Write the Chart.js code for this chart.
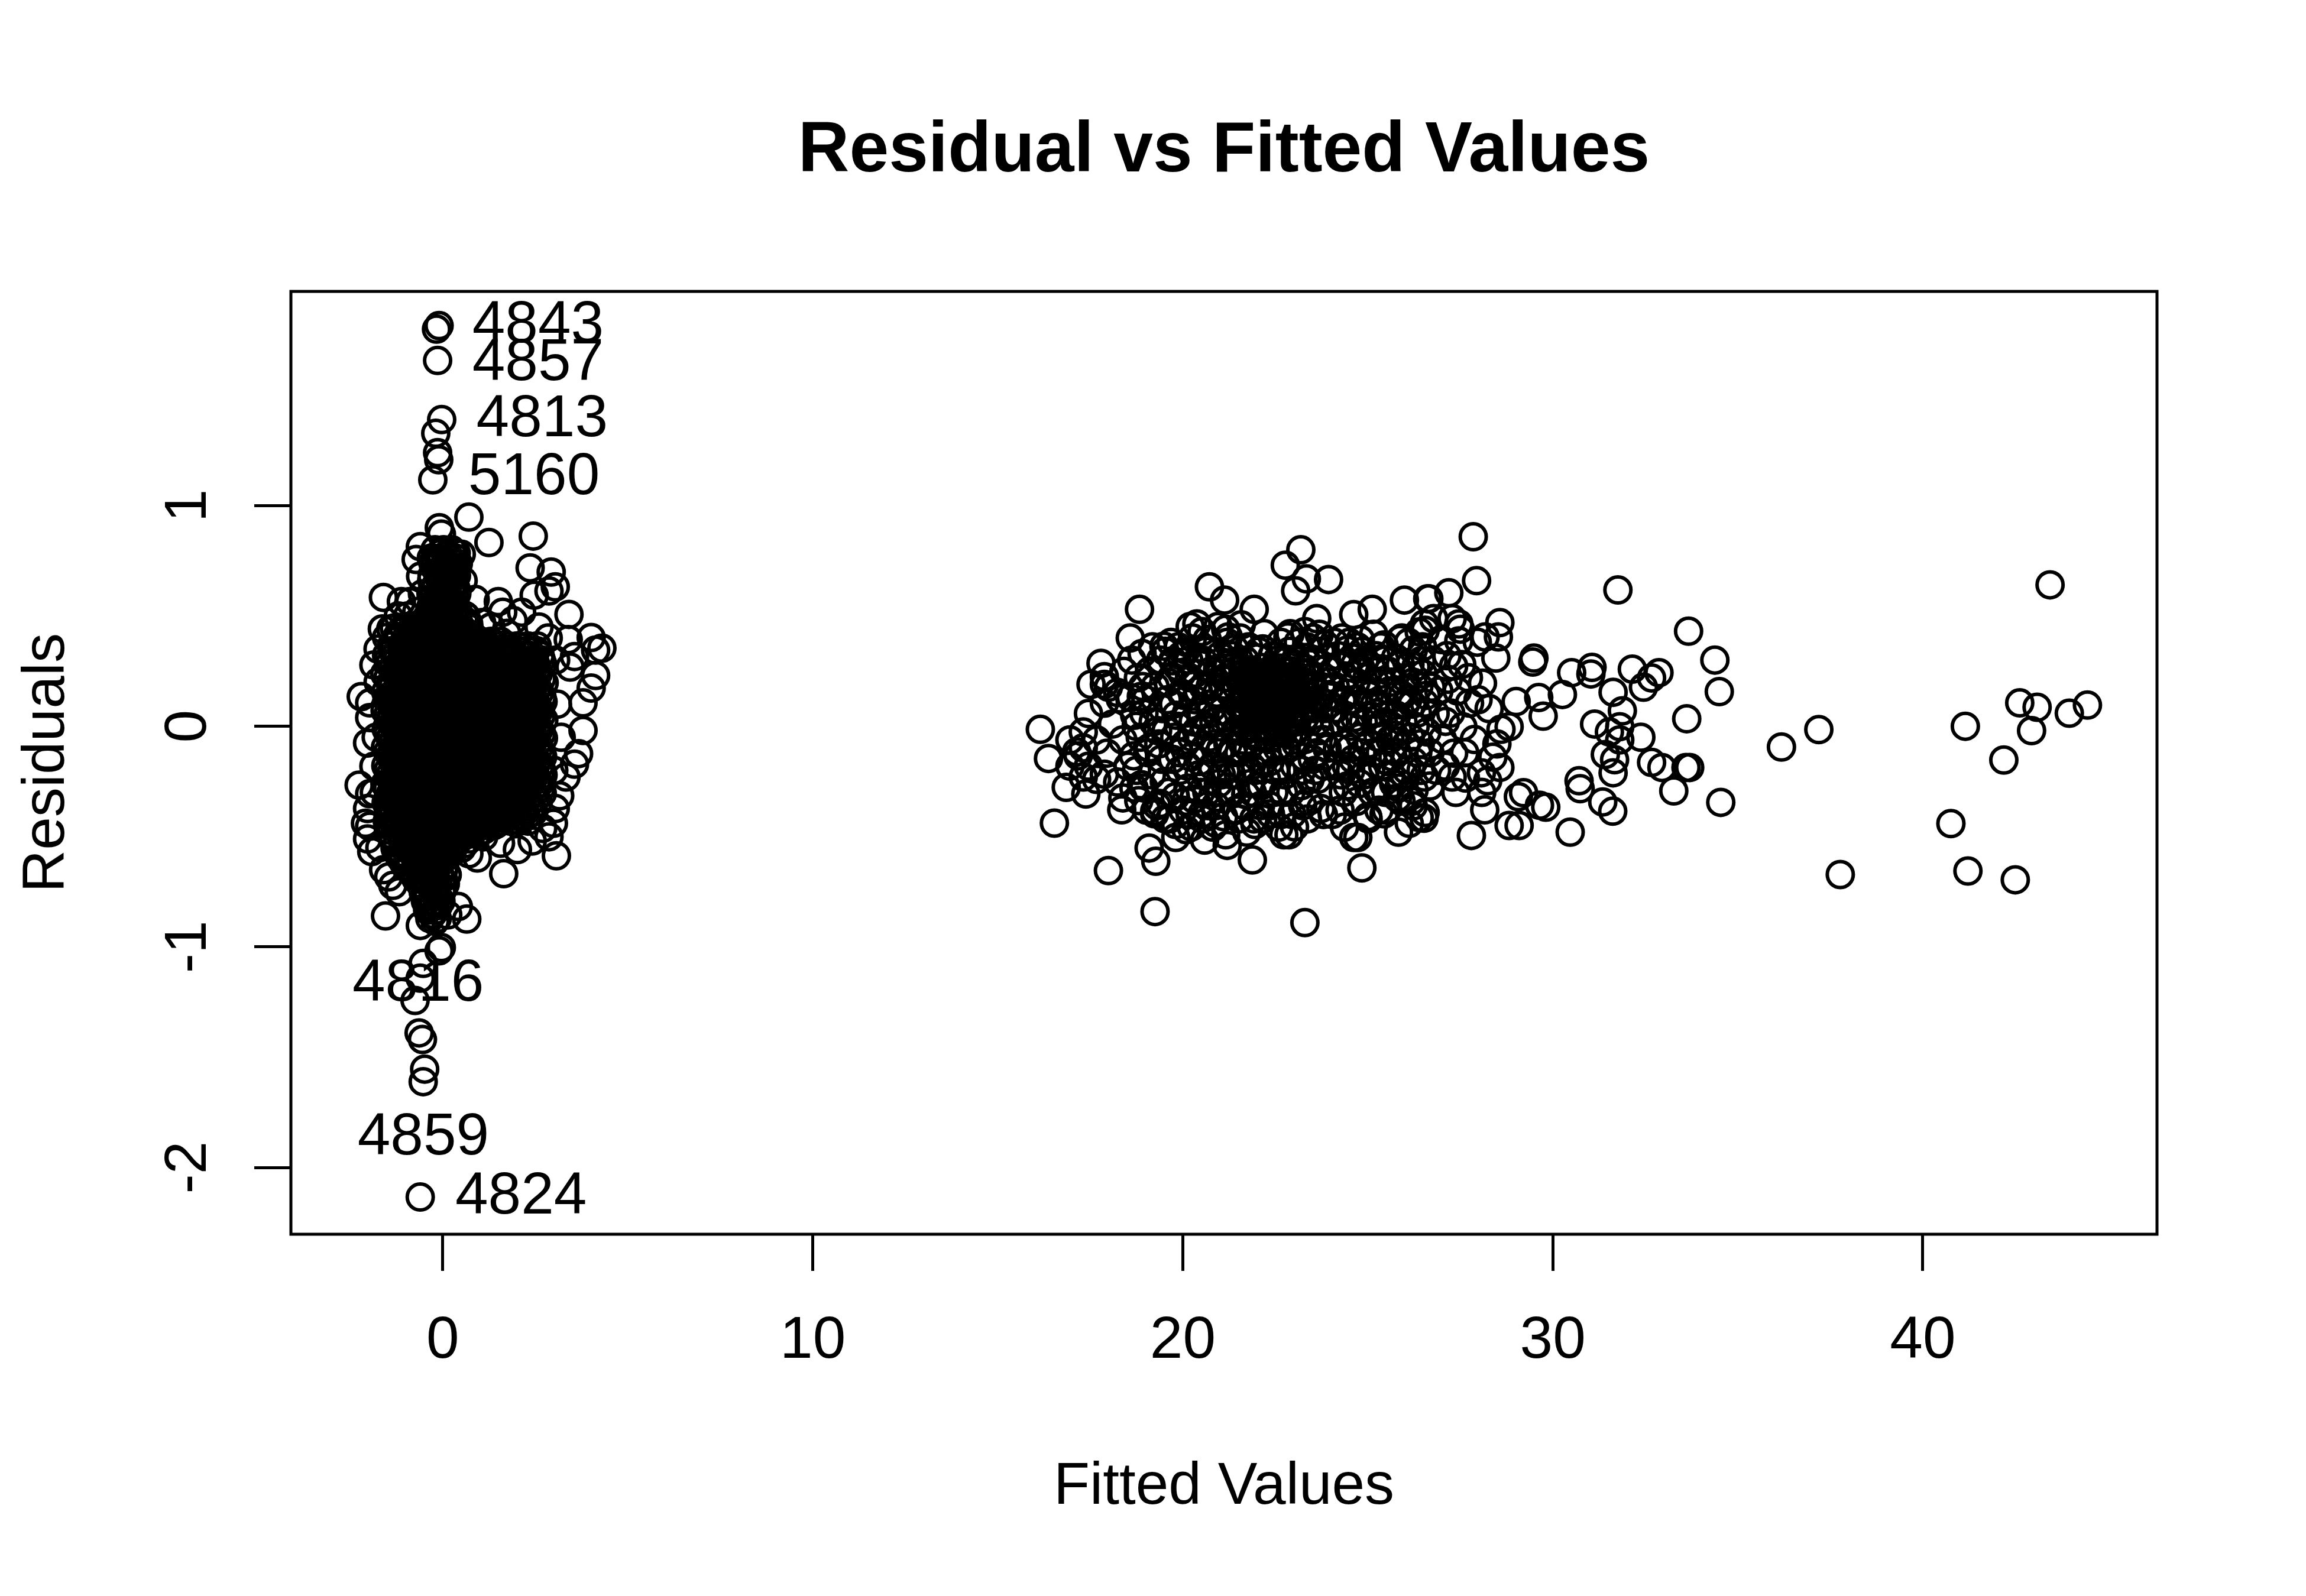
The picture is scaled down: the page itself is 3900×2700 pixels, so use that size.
<!DOCTYPE html>
<html><head><meta charset="utf-8">
<script src="https://cdn.jsdelivr.net/npm/chart.js@4.4.1/dist/chart.umd.min.js"></script>
<style>html,body{margin:0;padding:0;background:#fff;}canvas{display:block;}</style>
</head><body>
<canvas id="c" width="3900" height="2700" style="width:3900px;height:2700px"></canvas>
<script>
const chartTitle = 'Residual vs Fitted Values';
const xAxisTitle = 'Fitted Values';
const yAxisTitle = 'Residuals';
const xTicks = [0, 10, 20, 30, 40];
const yTicks = [-2, -1, 0, 1];
const xRange = [-4.105, 46.33];
const yRange = [-2.3025, 1.971];

// Left (near-zero fitted) cluster: dense rows [residual, fitted, fitted, ...]
const leftSpikeRows = [
 [0.800, -0.21, 0.02, 0.24],
 [0.781, -0.10, 0.13],
 [0.762, -0.31, -0.08, 0.14, 0.35],
 [0.741, -0.27, -0.10, 0.10, 0.30],
 [0.721, -0.23, 0.01, 0.27],
 [0.702, -0.12, 0.14, 0.34],
 [0.683, -0.29, -0.05, 0.18, 0.37],
 [0.662, -0.30, -0.08, 0.16],
 [0.641, -0.18, 0.05, 0.28],
 [0.622, -0.24, 0.00, 0.22, 0.36],
 [0.602, -0.32, -0.09, 0.13, 0.38],
 [0.582, -0.14, 0.09, 0.33],
 [0.561, -0.22, 0.03, 0.26],
 [0.542, -0.32, -0.10, 0.12, 0.36],
 [0.522, -0.30, -0.06, 0.17, 0.41],
 [0.502, -0.40, -0.14, 0.10, 0.34, 0.60],
 [0.483, -0.46, -0.19, 0.06, 0.31, 0.56],
 [0.465, -0.60, -0.34, -0.08, 0.18, 0.44, 0.70]
];
const leftBodyRows = [
 [0.446, -1.31,-1.06,-0.79,-0.56,-0.27,-0.04,0.23,0.46,0.71],
 [0.425, -1.18,-0.92,-0.66,-0.40,-0.14,0.12,0.38,0.64],
 [0.405, -1.24,-0.97,-0.73,-0.46,-0.21,0.06,0.30,0.57,0.84],
 [0.385, -1.30,-1.04,-0.78,-0.52,-0.26,0.00,0.26,0.52,0.78,1.04,1.30,1.56],
 [0.364, -1.39,-1.11,-0.87,-0.59,-0.35,-0.07,0.19,0.43,0.70,0.97,1.22,1.49,1.76,2.02,2.30,2.55],
 [0.343, -1.36,-1.10,-0.84,-0.58,-0.32,-0.06,0.20,0.46,0.72,0.98,1.24,1.50,1.76,2.02,2.28,2.52],
 [0.322, -1.52,-1.30,-1.01,-0.79,-0.48,-0.27,0.04,0.25,0.55,0.77,1.09,1.29,1.60,1.81,2.13,2.33,2.63],
 [0.301, -1.48,-1.23,-0.96,-0.71,-0.44,-0.19,0.08,0.33,0.60,0.85,1.12,1.37,1.64,1.89,2.16,2.41,2.66],
 [0.281, -1.44,-1.13,-0.93,-0.61,-0.40,-0.09,0.12,0.44,0.64,0.95,1.15,1.47,1.68,1.99,2.19,2.51,2.70],
 [0.259, -1.35,-1.10,-0.83,-0.58,-0.31,-0.06,0.21,0.46,0.73,0.98,1.25,1.50,1.77,2.02,2.29,2.54],
 [0.238, -1.57,-1.26,-1.05,-0.74,-0.53,-0.22,-0.01,0.30,0.51,0.82,1.03,1.34,1.55,1.86,2.07,2.38,2.58],
 [0.217, -1.49,-1.22,-0.97,-0.70,-0.45,-0.18,0.07,0.34,0.59,0.86,1.11,1.38,1.63,1.90,2.15,2.42,2.67],
 [0.197, -1.40,-1.19,-0.88,-0.66,-0.35,-0.14,0.17,0.38,0.69,0.90,1.21,1.42,1.73,1.94,2.25,2.46,2.74],
 [0.176, -1.36,-1.09,-0.84,-0.57,-0.32,-0.05,0.20,0.47,0.72,0.99,1.24,1.51,1.76,2.03,2.28,2.55],
 [0.155, -1.54,-1.29,-1.02,-0.77,-0.50,-0.25,0.02,0.27,0.54,0.79,1.06,1.31,1.58,1.83,2.10,2.35,2.62],
 [0.133, -1.48,-1.23,-0.96,-0.71,-0.44,-0.19,0.08,0.33,0.60,0.85,1.12,1.37,1.64,1.89,2.16,2.41,2.68],
 [0.112, -1.43,-1.16,-0.91,-0.62,-0.39,-0.10,0.13,0.42,0.65,0.94,1.17,1.46,1.69,1.98,2.21,2.50,2.71],
 [0.091, -1.35,-1.10,-0.83,-0.58,-0.31,-0.06,0.21,0.46,0.73,0.98,1.25,1.50,1.77,2.02,2.29,2.56],
 [0.071, -1.56,-1.28,-1.03,-0.76,-0.51,-0.24,0.01,0.28,0.53,0.80,1.05,1.32,1.57,1.84,2.09,2.36,2.60],
 [0.050, -1.49,-1.22,-0.97,-0.70,-0.45,-0.18,0.07,0.34,0.59,0.86,1.11,1.38,1.63,1.90,2.15,2.42,2.66],
 [0.029, -1.41,-1.18,-0.89,-0.64,-0.37,-0.12,0.15,0.40,0.67,0.92,1.19,1.44,1.71,1.96,2.23,2.48,2.73],
 [0.008, -1.36,-1.09,-0.84,-0.57,-0.32,-0.05,0.20,0.47,0.72,0.99,1.24,1.51,1.76,2.03,2.28,2.54],
 [-0.013, -1.53,-1.28,-1.03,-0.76,-0.49,-0.24,0.01,0.28,0.53,0.80,1.07,1.32,1.57,1.84,2.11,2.36,2.61],
 [-0.033, -1.48,-1.23,-0.96,-0.71,-0.44,-0.19,0.08,0.33,0.60,0.85,1.12,1.37,1.64,1.89,2.16,2.41,2.67],
 [-0.054, -1.42,-1.15,-0.90,-0.63,-0.38,-0.11,0.14,0.41,0.66,0.93,1.18,1.45,1.70,1.97,2.22,2.49,2.72],
 [-0.075, -1.35,-1.10,-0.83,-0.58,-0.31,-0.06,0.21,0.46,0.73,0.98,1.25,1.50,1.77,2.02,2.29,2.55],
 [-0.096, -1.55,-1.27,-1.02,-0.75,-0.50,-0.23,0.02,0.29,0.54,0.81,1.06,1.33,1.58,1.85,2.10,2.37,2.60],
 [-0.117, -1.49,-1.22,-0.97,-0.70,-0.45,-0.18,0.07,0.34,0.59,0.86,1.11,1.38,1.63,1.90,2.15,2.42,2.66],
 [-0.138, -1.40,-1.16,-0.87,-0.64,-0.35,-0.12,0.17,0.40,0.69,0.92,1.21,1.44,1.73,1.96,2.25,2.48,2.70],
 [-0.158, -1.36,-1.09,-0.84,-0.57,-0.32,-0.05,0.20,0.47,0.72,0.99,1.24,1.51,1.76,2.03,2.28,2.54],
 [-0.179, -1.54,-1.29,-1.02,-0.77,-0.50,-0.25,0.02,0.27,0.54,0.79,1.06,1.31,1.58,1.83,2.10,2.35,2.62],
 [-0.200, -1.48,-1.23,-0.96,-0.71,-0.44,-0.19,0.08,0.33,0.60,0.85,1.12,1.37,1.64,1.89,2.16,2.41,2.67],
 [-0.221, -1.43,-1.14,-0.91,-0.62,-0.39,-0.10,0.13,0.42,0.65,0.94,1.17,1.46,1.69,1.98,2.21,2.50,2.71],
 [-0.241, -1.35,-1.10,-0.83,-0.58,-0.31,-0.06,0.21,0.46,0.73,0.98,1.25,1.50,1.77,2.02,2.29,2.55],
 [-0.262, -1.56,-1.27,-1.04,-0.75,-0.52,-0.23,0.00,0.29,0.52,0.81,1.04,1.33,1.56,1.85,2.08,2.37,2.60],
 [-0.283, -1.49,-1.22,-0.97,-0.70,-0.45,-0.18,0.07,0.34,0.59,0.86,1.11,1.38,1.63,1.90,2.15,2.42,2.65],
 [-0.304, -1.41,-1.18,-0.89,-0.66,-0.37,-0.14,0.15,0.38,0.67,0.90,1.19,1.42,1.71,1.94,2.23,2.46,2.69],
 [-0.325, -1.36,-1.09,-0.84,-0.57,-0.32,-0.05,0.20,0.47,0.72,0.99,1.24,1.51,1.76,2.03,2.28,2.52],
 [-0.346, -1.53,-1.29,-1.03,-0.77,-0.49,-0.25,0.01,0.27,0.53,0.79,1.07,1.31,1.57,1.83,2.11,2.35,2.58],
 [-0.367, -1.48,-1.23,-0.96,-0.71,-0.44,-0.19,0.08,0.33,0.60,0.85,1.12,1.37,1.64,1.89,2.16,2.40],
 [-0.388, -1.42,-1.16,-0.90,-0.62,-0.38,-0.12,0.14,0.40,0.66,0.92,1.18,1.44,1.70,1.96,2.22,2.46],
 [-0.409, -1.35,-1.10,-0.83,-0.58,-0.31,-0.06,0.21,0.46,0.73,0.98,1.25,1.50,1.77,2.02,2.25],
 [-0.430, -1.50,-1.27,-1.03,-0.75,-0.51,-0.23,0.01,0.29,0.53,0.81,1.05,1.30,1.55,1.82,2.08,2.30],
 [-0.450, -1.46,-1.21,-0.95,-0.69,-0.43,-0.17,0.09,0.35,0.61,0.87,1.13,1.38]
];
const leftTailRows = [
 [-0.470, -1.47,-1.23,-0.95,-0.71,-0.43,-0.19,0.09,0.33,0.61,0.85,1.11],
 [-0.490, -1.41,-1.15,-0.89,-0.63,-0.37,-0.11,0.15,0.41,0.67,0.93],
 [-0.511, -1.35,-1.11,-0.83,-0.59,-0.31,-0.07,0.21,0.45,0.73],
 [-0.532, -1.23,-0.97,-0.71,-0.45,-0.19,0.07,0.33,0.60],
 [-0.553, -1.29,-1.01,-0.77,-0.49,-0.25,0.03,0.27,0.51],
 [-0.572, -1.10,-0.84,-0.58,-0.32,-0.06,0.20],
 [-0.592, -1.17,-0.93,-0.65,-0.41,-0.13,0.11],
 [-0.613, -1.08,-0.86,-0.60,-0.34,-0.08],
 [-0.634, -1.01,-0.73,-0.49,-0.21,0.05],
 [-0.653, -0.66,-0.43,-0.19,0.02],
 [-0.673, -0.79,-0.57,-0.31,-0.09,0.12],
 [-0.693, -0.72,-0.48,-0.26,-0.02],
 [-0.714, -0.61,-0.37,-0.15,0.07],
 [-0.733, -0.45,-0.20,0.02],
 [-0.752, -0.53,-0.27,-0.03],
 [-0.772, -0.40,-0.15],
 [-0.793, -0.47,-0.25,-0.05],
 [-0.813, -0.34,-0.12],
 [-0.834, -0.41,-0.19],
 [-0.852, -0.28],
 [-0.871, -0.35,-0.15]
];
// Left cluster rim points [fitted, residual]
const leftEdgePoints = [
 [0.705,0.948],[1.247,0.833],[2.445,0.862],[-0.094,0.90],[-0.037,0.871],[-0.607,0.814],[-0.72,0.756],[0.363,0.785],[0.42,0.737],
 [-1.605,0.584],[-1.12,0.565],[-0.893,0.565],[-1.406,0.441],[-1.52,0.402],[0.876,0.575],[1.5,0.565],[1.62,0.517],[2.36,0.718],
 [2.93,0.699],[3.04,0.632],[2.87,0.613],[2.47,0.594],[2.13,0.517],[1.9,0.479],[1.73,0.421],[3.41,0.507],[4.01,0.402],[4.3,0.354],
 [4.13,0.345],[3.39,0.393],[3.56,0.316],[3.44,0.268],[4.13,0.23],[4.01,0.173],[3.79,0.106],[3.79,-0.019],[3.67,-0.124],[3.56,-0.172],
 [3.33,-0.23],[3.16,-0.315],[3.04,-0.373],[2.99,-0.44],[-2.204,0.134],[-1.976,0.106],[-1.634,0.441],[-1.862,0.278],[-1.748,0.201],
 [-1.976,0.039],[-2.033,-0.076],[-1.862,-0.181],[-2.261,-0.267],[-1.976,-0.306],[-2.033,-0.373],[-2.09,-0.44],
 [-1.976,-0.453],[-2.033,-0.511],[-1.92,-0.568],[-1.463,-0.683],[-1.349,-0.721],[-1.178,-0.75],[-1.548,-0.86],[-0.607,-0.903],
 [-0.208,-0.884],[0.134,-0.855],[0.648,-0.874],[0.42,-0.817],[0.933,-0.597],[0.705,-0.578],[1.646,-0.668],[1.56,-0.53],[2.017,-0.559],
 [2.416,-0.52],[2.7,-0.463],[2.87,-0.501],[3.07,-0.587],[1.104,-0.501],[1.447,-0.444],
 [-0.95,0.50],[-0.70,0.52],[-1.20,0.50],[-0.55,0.60],[-0.60,0.68],[0.55,0.66],[0.62,0.50],[0.50,0.78],[1.05,0.47],[1.30,0.45],
 [2.60,0.45],[2.85,0.40],[3.05,0.30],[3.10,0.10],[3.20,-0.05],[3.00,-0.20],[-1.70,-0.55],[-1.60,-0.65],[-1.75,0.35],[-1.80,-0.05],[-1.85,-0.30]
];
const leftOutliers = [
 [-0.17,1.80],[-0.10,1.816],[-0.14,1.658],[-0.03,1.39],[-0.19,1.328],[-0.14,1.24],[-0.11,1.208],[-0.27,1.117],
 [-0.61,-2.134],[-0.49,-1.554],[-0.53,-1.611],[-0.64,-1.39],[-0.55,-1.42],[-0.75,-1.243],[-0.61,-1.142],[-0.53,-1.075],
 [-0.04,-1.003],[-0.10,-1.018]
];

// Right (large fitted) cluster [fitted, residual]
const rightCorePoints = [
 [21.62,0.262],[21.87,0.255],[22.15,0.266],[22.41,0.258],[22.64,0.263],[22.93,0.251],
 [21.70,0.242],[21.98,0.236],[22.27,0.246],[22.53,0.238],[22.79,0.244],
 [21.76,0.221],[22.00,0.215],[22.28,0.226],[22.52,0.218],[22.80,0.224],[23.04,0.212],
 [21.62,0.201],[21.90,0.196],[22.17,0.206],[22.45,0.198],[22.71,0.203],[22.97,0.194],
 [21.58,0.182],[21.85,0.176],[22.11,0.187],[22.39,0.178],[22.63,0.185],[22.91,0.174],
 [21.68,0.162],[21.94,0.157],[22.22,0.166],[22.47,0.159],[22.74,0.165],[22.99,0.152],
 [21.74,0.142],[21.98,0.137],[22.26,0.146],[22.50,0.139],[22.78,0.145],[23.02,0.133],
 [21.64,0.121],[21.90,0.116],[22.17,0.126],[22.43,0.118],[22.70,0.124],[22.95,0.113],
 [21.57,0.101],[21.83,0.096],[22.09,0.106],[22.37,0.098],[22.61,0.104],[22.89,0.093],
 [21.66,0.082],[21.92,0.077],[22.19,0.086],[22.45,0.078],[22.71,0.084],[22.97,0.075],
 [21.72,0.062],[21.96,0.057],[22.24,0.066],[22.48,0.058],[22.76,0.064],[23.00,0.055],
 [21.67,0.042],[21.94,0.036],[22.21,0.047],[22.46,0.039],[22.72,0.045],[22.99,0.034],
 [21.61,0.022],[21.89,0.016],[22.13,0.027],[22.42,0.019],[22.67,0.025],[22.94,0.014],
 [21.70,-0.004],[21.96,-0.010],[22.22,0.000],[22.50,-0.006],[22.78,-0.002],[23.06,-0.012],
 [21.62,-0.026],[21.90,-0.032],[22.16,-0.022],[22.44,-0.030],[22.72,-0.024],[23.00,-0.034],
 [23.22,0.24],[23.30,0.20],[23.24,0.16],[23.32,0.12],[23.22,0.08],[23.30,0.04],[23.45,0.18],[23.48,0.10]
];
const rightBodyPoints = [
 [18.62,0.30],[18.70,0.05],[18.75,-0.20],[18.80,0.22],[18.85,-0.05],[18.90,0.33],[18.95,-0.28],[19.00,0.12],[19.05,-0.12],[19.10,0.25],
 [19.15,-0.22],[19.20,0.02],[19.25,0.18],[19.30,-0.36],[19.35,-0.08],[19.40,0.30],[19.45,0.08],[19.50,-0.25],[19.55,-0.02],[19.60,0.20],
 [19.65,-0.42],[19.68,0.38],[19.72,-0.15],[19.75,0.10],[19.80,-0.32],[19.85,0.27],[19.88,0.00],[19.92,-0.20],[19.96,0.15],[20.00,-0.38],
 [20.03,0.33],[20.06,-0.08],[20.10,0.06],[20.14,-0.28],[20.18,0.22],[20.22,-0.14],[20.26,0.40],[20.30,-0.33],[20.33,0.12],[20.37,-0.02],
 [20.40,0.30],[20.44,-0.22],[20.48,0.05],[20.52,-0.42],[20.55,0.18],[20.58,-0.10],
 [20.62,0.34],[20.65,-0.30],[20.70,0.10],[20.72,-0.05],[20.76,0.25],[20.80,-0.18],[20.84,0.02],[20.88,-0.36],[20.92,0.15],[20.96,-0.26],
 [21.00,0.32],[21.03,-0.10],[21.06,0.07],[21.10,-0.41],[21.13,0.22],[21.16,-0.20],[21.20,0.38],
 [21.25,-0.30],[21.30,0.05],[21.35,-0.12],[21.40,0.35],[21.45,-0.38],[21.50,-0.22],[21.55,0.40],[21.62,-0.08],[21.70,-0.31],[21.78,0.36],
 [21.85,-0.18],[21.92,-0.42],[22.00,-0.05],[22.05,0.34],[22.12,-0.27],[22.20,0.42],[22.28,-0.12],[22.35,-0.36],[22.42,0.32],[22.50,-0.20],
 [22.58,-0.03],[22.65,0.38],[22.72,-0.30],[22.80,-0.10],[22.88,0.34],[22.95,-0.40],[23.02,-0.18],[23.10,0.28],[23.15,0.05],[23.20,-0.27],
 [23.25,0.15],[23.30,-0.06],[23.35,0.36],[23.40,-0.34],[23.45,0.22],[23.50,-0.15],[23.55,0.08],[23.60,0.30],[23.65,-0.24],[23.70,-0.02],
 [23.75,0.18],[23.80,-0.40],[23.85,0.37],[23.90,-0.10],[23.95,0.10],[24.00,-0.29],
 [24.05,0.25],[24.10,0.02],[24.15,-0.18],[24.20,0.32],[24.25,-0.38],[24.30,0.12],[24.35,-0.08],[24.40,0.22],[24.45,-0.27],[24.50,0.38],
 [24.55,0.00],[24.60,-0.15],[24.65,0.28],[24.70,-0.34],[24.75,0.10],[24.80,-0.05],[24.85,0.34],[24.90,-0.22],[24.95,0.16],[25.00,-0.41],
 [25.05,0.05],[25.10,0.27],[25.15,-0.12],
 [25.20,0.20],[25.25,-0.29],[25.30,0.00],[25.35,0.36],[25.40,-0.18],[25.45,0.12],[25.50,-0.38],[25.55,0.25],[25.60,-0.06],[25.65,0.06],
 [25.70,-0.26],[25.75,0.31],[25.80,-0.12],[25.85,0.15],[25.90,-0.34],[25.95,0.02],[26.00,0.22],[26.05,-0.20],[26.10,0.38],[26.15,-0.05],
 [26.20,0.10],[26.25,-0.29],[26.30,0.27],[26.35,-0.12],
 [24.12,0.18],[24.28,-0.22],[24.38,0.05],[24.52,-0.10],[24.58,0.31],[24.68,0.20],[24.78,-0.26],[24.88,0.02],[24.98,0.22],[25.08,-0.20],
 [25.18,0.10],[25.28,-0.05],[25.38,0.26],[25.48,-0.30],[25.58,0.16],[25.68,-0.14],[25.78,0.05],[25.88,0.28],[25.98,-0.22],[26.08,0.12],
 [26.18,-0.34],[26.28,0.00],[26.38,0.18],
 [23.08,0.02],[23.18,0.20],[23.28,-0.14],[23.38,0.10],[23.48,0.30],[23.58,-0.20],[23.68,0.12],[23.78,-0.06],[23.88,0.26],
 [21.28,0.15],[21.38,0.25],[21.42,-0.02],[21.48,0.10],[21.35,0.32],[21.22,-0.08],[21.45,0.18],
 [19.58,0.12],[19.78,-0.05],[19.98,0.24],[20.12,-0.18],[20.28,0.02],[20.42,0.16],[20.62,-0.22],[20.78,0.08],[20.98,-0.12],[21.08,0.18],
 [21.18,0.28],[21.32,-0.22],[21.52,-0.12],[21.68,0.30],[21.82,-0.26],[22.02,0.31],[22.18,-0.16],[22.32,-0.06],[22.55,0.30],[22.68,-0.20],
 [22.86,-0.04],[23.04,0.30],[23.22,-0.20],[23.42,0.02],[23.62,-0.12],[23.82,0.08],[24.02,0.14],[24.18,-0.10],[24.42,-0.18],[24.62,0.12],
 [24.82,0.26],[25.02,-0.08],[25.22,0.32],[25.42,0.02],[25.62,-0.22],[25.82,-0.02],[26.02,0.10],[26.22,0.20],[26.42,-0.08],[19.88,0.36],
 [20.48,-0.30],[21.02,-0.30],[22.10,-0.36],[22.90,0.42],[23.52,0.40],[24.30,0.40],[25.30,-0.38],[25.92,0.40],[26.12,-0.44],[19.42,-0.15],
 [19.62,-0.30],[19.70,0.22],[19.82,0.05],[19.90,-0.12],[20.02,0.14],[20.08,-0.34],[20.16,0.30],[20.24,-0.05],[20.34,0.24],[20.46,-0.16],
 [20.54,0.30],[20.60,0.00],[20.68,-0.36],[20.74,0.18],[20.86,-0.08],[20.94,0.26],[21.04,-0.22],[21.12,0.02],[21.24,0.22],[21.34,-0.30],
 [21.44,0.28],[21.58,-0.18],[21.66,-0.36],[21.76,-0.10],[21.88,-0.30],[21.96,-0.20],[22.06,-0.12],[22.16,-0.42],[22.26,-0.24],[22.36,-0.16],
 [22.46,-0.30],[22.56,-0.10],[22.66,-0.40],[22.76,-0.22],[22.84,0.30],[22.92,-0.30],[23.06,-0.08],[23.12,0.38],[23.24,-0.36],[23.32,0.26],
 [23.44,-0.24],[23.54,0.18],[23.64,0.02],[23.72,0.34],[23.84,-0.18],[23.92,0.20],[24.04,-0.40],[24.14,0.08],[24.24,0.28],[24.34,-0.30],
 [24.44,0.15],[24.54,-0.20],[24.64,0.04],[24.72,0.36],[24.84,-0.12],[24.92,0.30],[25.04,0.14],[25.12,-0.30],[25.24,0.06],[25.34,-0.12],
 [25.46,0.30],[25.54,-0.16],[25.64,0.20],[25.72,-0.04],[25.84,-0.28],[25.94,0.14],[26.04,-0.08],[26.14,0.28],[26.24,-0.16],[26.34,0.06],
 [26.44,-0.20],[26.48,0.36],[26.58,0.14],[26.68,-0.12],[26.76,0.30],[26.86,-0.20],[26.92,0.16],[27.02,-0.06],[27.14,0.32],[27.24,0.06],
 [27.38,-0.30],[27.42,0.16],[27.54,0.28],[27.62,-0.12],[27.72,0.22],[27.88,-0.06],[27.98,0.12],[28.08,-0.30],[28.28,0.08],[28.38,-0.14],
 [19.18,0.36],[19.02,-0.38],[18.92,0.18],[18.68,-0.28],[18.58,0.40],[19.32,-0.02],[19.52,0.34],[20.20,-0.40],[20.90,-0.44],[21.58,0.46]
];
const rightRimPoints = [
 [23.19,0.80],[22.77,0.73],[23.34,0.668],[23.94,0.665],[23.05,0.614],[20.72,0.632],[21.13,0.572],[21.93,0.53],[18.83,0.53],[23.62,0.488],
 [24.62,0.506],[25.12,0.53],[25.99,0.572],[26.62,0.578],[26.55,0.435],[19.49,0.363],[17.79,0.285],[18.41,0.249],[17.88,0.225],[17.99,0.177],
 [18.88,0.136],[18.31,0.124],[16.15,-0.014],[16.37,-0.146],[17.31,-0.026],[17.13,-0.116],[16.85,-0.277],[16.53,-0.439],[17.38,-0.307],[17.67,-0.241],
 [18.35,-0.379],[17.99,-0.654],[19.09,-0.552],[19.27,-0.612],[19.25,-0.84],[21.88,-0.606],[23.3,-0.89],[24.84,-0.642],[24.62,-0.504],[25.83,-0.48],
 [26.55,-0.391],[21.2,-0.54],[20.59,-0.516],[19.81,-0.504],[22.73,-0.492],[23.02,-0.456],[19.52,-0.42],[20.23,-0.456],[21.73,-0.48],
 [20.2,0.452],[20.38,0.464],[20.52,0.429],[20.66,0.393],[21.16,0.44],[21.23,0.405],[20.95,0.452],[19.95,0.32],[20.09,0.345],[19.73,0.297],
 [22.16,0.351],[22.84,0.405],[23.3,0.429],[23.69,0.417],[24.09,0.381],[24.44,0.345],[24.8,0.393],[25.16,0.417],[25.44,0.369],[25.87,0.393],
 [26.23,0.345],[26.44,0.297],
 [17.52,0.19],[17.88,0.19],[18.24,0.153],[18.59,0.13],[17.88,0.105],[17.45,0.058],[16.95,-0.062],[17.31,-0.098],[17.67,-0.062],[17.95,-0.122],
 [18.38,-0.062],[18.1,0.01],[17.17,-0.134],[17.45,-0.181],[17.88,-0.217],[18.24,-0.253],[18.52,-0.181],[18.38,-0.325],[17.31,-0.23],[16.95,-0.181],
 [18.74,0.0],[18.95,0.058],[19.09,-0.098],[18.67,-0.134],[18.88,-0.265],[19.24,-0.385],[19.38,-0.35],[18.81,-0.337],
 [19.24,-0.397],[19.81,-0.445],[20.09,-0.469],[20.52,-0.397],[20.81,-0.457],[21.16,-0.492],[21.52,-0.42],[21.95,-0.445],[22.37,-0.397],[22.59,-0.457],
 [22.87,-0.492],[23.37,-0.42],[23.73,-0.373],[24.37,-0.457],[24.73,-0.504],[25.01,-0.42],[25.44,-0.397],[25.8,-0.325],[26.23,-0.361]
];
const rightTailPoints = [
 [27.85,0.859],[27.94,0.66],[31.76,0.618],[27.19,0.605],[26.65,0.578],[33.67,0.431],[34.38,0.30],[34.5,0.157],[33.62,0.034],[34.54,-0.345],
 [33.27,-0.293],[33.6,-0.187],[33.7,-0.187],[32.87,0.243],[32.67,0.219],[32.45,0.177],[32.15,0.259],[31.06,0.267],[31.03,0.237],[30.51,0.243],
 [30.26,0.144],[29.62,0.13],[29.49,0.309],[29.46,0.291],[29.01,0.112],[29.74,0.046],[31.63,0.154],[31.88,0.07],[31.81,-0.002],[31.13,0.01],
 [31.53,-0.026],[31.81,-0.062],[31.42,-0.128],[31.67,-0.152],[31.63,-0.211],[32.38,-0.05],[32.67,-0.164],[32.95,-0.187],[30.71,-0.247],[30.74,-0.283],
 [31.35,-0.343],[31.62,-0.385],[30.47,-0.48],[29.81,-0.367],[29.64,-0.358],[29.07,-0.319],[29.21,-0.301],[28.82,-0.45],[29.09,-0.45],[28.16,-0.379],
 [27.8,-0.495],[26.52,-0.417],[28.6,-0.014],[28.82,-0.002],[28.49,-0.08],[28.57,-0.187],[28.07,-0.211],[28.46,0.309],[28.57,0.47],[28.53,0.405],
 [28.1,0.195],[27.5,0.44],[27.46,0.387],[26.99,0.393],[26.39,0.428],[27.32,0.273],[27.17,0.213],[27.75,0.105],[27.57,-0.002],[27.1,0.022],
 [26.82,0.058],[26.6,-0.026],[27.32,-0.122],[27.1,-0.181],[26.68,-0.271],[26.53,-0.23],[27.64,-0.235],[28.24,-0.247],[26.39,-0.414],[27.28,-0.23],
 [26.5,0.237],[26.71,0.177],[26.53,0.105],[27.96,0.381],[28.17,0.405],[26.78,0.488],[26.53,0.464],[27.28,0.488],[27.46,0.464]
];
const farRightPoints = [
 [43.44,0.641],[42.62,0.106],[43.09,0.086],[42.94,-0.02],[43.96,0.059],[44.45,0.096],[41.15,0.0],[42.19,-0.153],
 [37.19,-0.015],[36.18,-0.094],[37.77,-0.672],[40.76,-0.441],[41.22,-0.656],[42.5,-0.696]
];

// Observation labels: text, left x (fitted), vertical centre (residual)
const labelTexts = ['4843', '4857', '4813', '5160', '4816', '4859', '4824'];
const labelX = [0.86, 0.86, 0.97, 0.75, -2.38, -2.24, 0.40];
const labelY = [1.837, 1.666, 1.411, 1.148, -1.148, -1.845, -2.113];

function rowsToPoints(rows) {
  const out = [];
  rows.forEach(r => { for (let i = 1; i < r.length; i++) out.push({ x: r[i], y: r[0] }); });
  return out;
}
function pairsToPoints(p) { return p.map(a => ({ x: a[0], y: a[1] })); }

const FONT = "'Liberation Sans', Arial, Helvetica, sans-serif";

function ds(points) {
  return {
    data: points, pointStyle: 'circle', pointRadius: 22, pointHoverRadius: 22,
    pointBorderWidth: 6, pointBorderColor: '#000', pointBackgroundColor: 'rgba(0,0,0,0)',
    showLine: false, clip: false
  };
}

const decor = {
  id: 'decor',
  afterDraw(chart) {
    const ctx = chart.ctx, a = chart.chartArea, xs = chart.scales.x, ys = chart.scales.y;
    ctx.save();
    ctx.strokeStyle = '#000'; ctx.lineWidth = 5;
    ctx.strokeRect(a.left, a.top, a.right - a.left, a.bottom - a.top);
    ctx.fillStyle = '#000';
    ctx.textBaseline = 'alphabetic';
    ctx.textAlign = 'center';
    ctx.font = 'bold 120px ' + FONT;
    ctx.fillText(chartTitle, (a.left + a.right) / 2, 290);
    ctx.font = '100px ' + FONT;
    ctx.fillText(xAxisTitle, (a.left + a.right) / 2, 2544);
    ctx.save();
    ctx.translate(108, (a.top + a.bottom) / 2);
    ctx.rotate(-Math.PI / 2);
    ctx.fillText(yAxisTitle, 0, 0);
    ctx.restore();
    ys.ticks.forEach(t => {
      const py = ys.getPixelForValue(t.value);
      ctx.save();
      ctx.translate(348, py);
      ctx.rotate(-Math.PI / 2);
      ctx.fillText(String(t.value), 0, 0);
      ctx.restore();
    });
    ctx.textAlign = 'left';
    labelTexts.forEach((s, i) => {
      ctx.fillText(s, xs.getPixelForValue(labelX[i]) - 4, ys.getPixelForValue(labelY[i]) + 36);
    });
    ctx.restore();
  }
};

new Chart(document.getElementById('c'), {
  type: 'scatter',
  data: {
    datasets: [
      ds(rowsToPoints(leftSpikeRows)),
      ds(rowsToPoints(leftBodyRows)),
      ds(rowsToPoints(leftTailRows)),
      ds(pairsToPoints(leftEdgePoints)),
      ds(pairsToPoints(leftOutliers)),
      ds(pairsToPoints(rightCorePoints)),
      ds(pairsToPoints(rightBodyPoints)),
      ds(pairsToPoints(rightRimPoints)),
      ds(pairsToPoints(rightTailPoints)),
      ds(pairsToPoints(farRightPoints))
    ]
  },
  options: {
    responsive: false, animation: false, devicePixelRatio: 1, events: [],
    layout: { padding: { left: 0, top: 493, right: 252, bottom: 0 } },
    plugins: { legend: { display: false }, title: { display: false }, tooltip: { enabled: false } },
    scales: {
      x: {
        type: 'linear', position: 'bottom', min: xRange[0], max: xRange[1],
        afterBuildTicks: s => { s.ticks = xTicks.map(v => ({ value: v })); },
        ticks: { font: { family: FONT, size: 100 }, color: '#000', padding: 59, maxRotation: 0, minRotation: 0, autoSkip: false, includeBounds: false },
        grid: { display: true, drawOnChartArea: false, drawTicks: true, tickLength: 62, tickWidth: 5, tickColor: '#000' },
        border: { display: false },
        afterFit: s => { s.height = 2700 - 2088; }
      },
      y: {
        type: 'linear', position: 'left', min: yRange[0], max: yRange[1],
        afterBuildTicks: s => { s.ticks = yTicks.map(v => ({ value: v })); },
        ticks: { display: false, includeBounds: false },
        grid: { display: true, drawOnChartArea: false, drawTicks: true, tickLength: 62, tickWidth: 5, tickColor: '#000' },
        border: { display: false },
        afterFit: s => { s.width = 492; }
      }
    }
  },
  plugins: [decor]
});
</script>
</body></html>
